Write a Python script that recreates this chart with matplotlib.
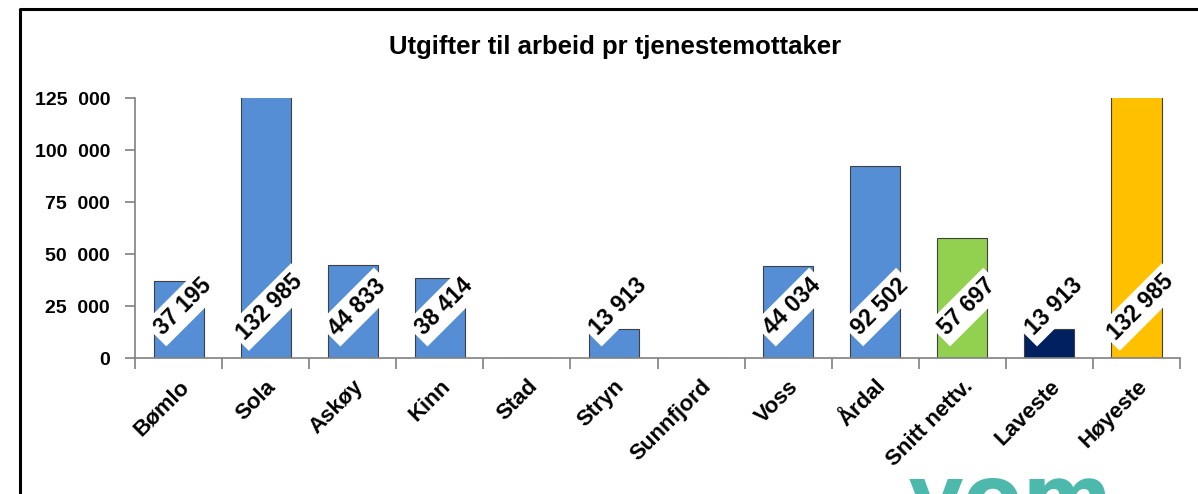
import numpy as np
import matplotlib.pyplot as plt
from matplotlib.lines import Line2D

# data
kommuner = ["Bømlo", "Sola", "Askøy", "Kinn", "Stad", "Stryn", "Sunnfjord",
            "Voss", "Årdal", "Snitt nettv.", "Laveste", "Høyeste"]
utgifter = [37195, 132985, 44833, 38414, np.nan, 13913, np.nan,
            44034, 92502, 57697, 13913, 132985]
farger = ["#558ED5"] * 9 + ["#92D050", "#002060", "#FFC000"]
yticks = [0, 25000, 50000, 75000, 100000, 125000]

plt.rcParams['font.family'] = ['Liberation Sans', 'DejaVu Sans']

fig = plt.figure(figsize=(11.98, 4.94), dpi=100)
ax = fig.add_axes([0.1127, 0.2753, 0.8723, 0.5263])

x = np.arange(len(kommuner))
vals = np.nan_to_num(utgifter)
ax.bar(x, vals, width=0.575, color=farger, edgecolor="#404040", linewidth=0.8)

# verdietiketter
for xi, v in zip(x, utgifter):
    if np.isnan(v):
        continue
    txt = f"{int(v):,}".replace(",", " ")
    ax.text(xi + 0.05, 24500, txt, rotation=45, ha="center", va="center",
            fontsize=16.5, fontweight="bold", rotation_mode="anchor",
            bbox=dict(boxstyle="square,pad=0.2", fc="white", ec="none"))

ax.set_xlim(-0.5, len(kommuner) - 0.5)
ax.set_ylim(0, 125000)
ax.set_yticks(yticks)
ax.set_yticklabels([f"{t:,}".replace(",", "  ") for t in yticks],
                   fontsize=14, fontweight="bold")
ax.set_xticks(x)
ax.set_xticklabels(kommuner, rotation=45, ha="right", rotation_mode="anchor",
                   fontsize=16, fontweight="bold")
ax.tick_params(axis="x", length=0, pad=13)
ax.set_xticks(np.arange(-0.5, len(kommuner)), minor=True)
ax.tick_params(axis="x", which="minor", length=8, color="#808080", width=1.2)
ax.tick_params(axis="y", length=7, color="#808080", width=1.2, pad=11)

for s in ["top", "right"]:
    ax.spines[s].set_visible(False)
for s in ["left", "bottom"]:
    ax.spines[s].set_color("#808080")
    ax.spines[s].set_linewidth(1.2)

fig.text(0.513, 0.905, "Utgifter til arbeid pr tjenestemottaker",
         ha="center", va="center", fontsize=18.5, fontweight="bold")

# ramme
fig.add_artist(Line2D([0.017, 0.017, 1.0], [0.0, 0.982, 0.982],
                      transform=fig.transFigure, color="black", lw=2.2))

# logo (delvis synlig)
fig.text(0.758, -0.065, "vom", color="#4DB8AC", fontsize=62,
         fontweight="bold", family="DejaVu Sans", va="baseline")

fig.savefig("out.png", dpi=100)
